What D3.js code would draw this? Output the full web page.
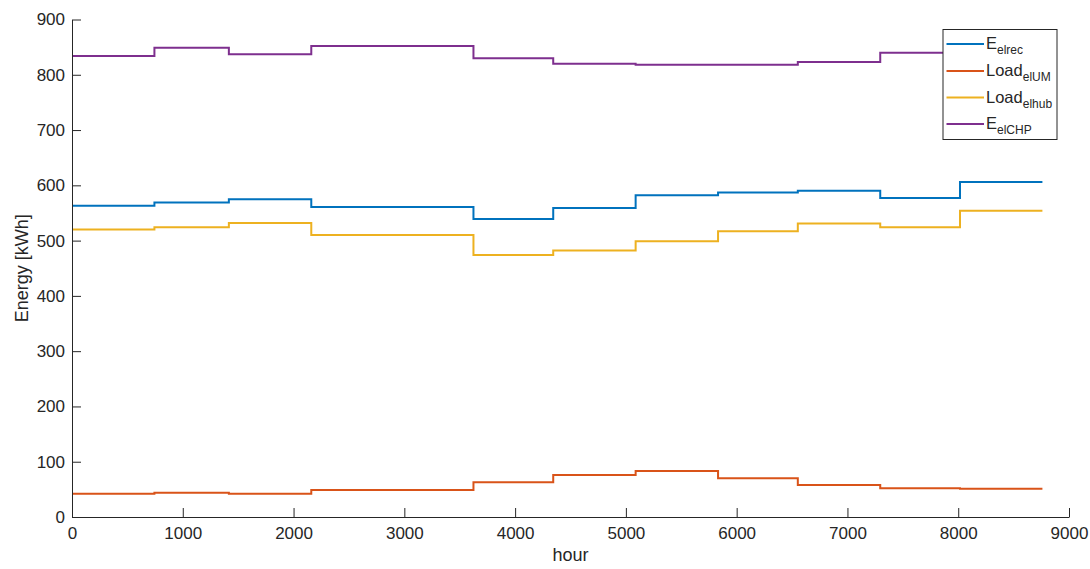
<!DOCTYPE html>
<html><head><meta charset="utf-8">
<script src="https://cdn.jsdelivr.net/npm/d3@7"></script>
<style>body{margin:0;background:#fff}svg{display:block}text{font-family:"Liberation Sans",Arial,sans-serif;fill:#262626}</style>
</head><body><svg id="c" width="1090" height="569"></svg>
<script>
// Month boundaries (hours) – step starts
const hours = [0, 744, 1416, 2160, 2880, 3624, 4344, 5088, 5832, 6552, 7296, 8016];
const endHour = 8760;
const Eelrec    = [563, 569, 575, 561, 561, 539, 559, 582, 587, 590, 577, 606];
const LoadelUM  = [42, 44, 42, 49, 49, 63, 76, 83, 70, 58, 52, 51];
const Loadelhub = [520, 524, 532, 510, 510, 474, 482, 499, 517, 531, 524, 554];
const EelCHP    = [834, 849, 837, 852, 852, 830, 820, 818, 818, 823, 840, 840];
const xTicks = [0,1000,2000,3000,4000,5000,6000,7000,8000,9000];
const yTicks = [0,100,200,300,400,500,600,700,800,900];
const seriesNames = [["E","elrec"],["Load","elUM"],["Load","elhub"],["E","elCHP"]];
const colors = ["#0072BD","#D95319","#EDB120","#7E2F8E"];
const seriesData = [Eelrec, LoadelUM, Loadelhub, EelCHP];

const svg = d3.select("#c");
const L = 72, R = 1069, T = 19.5, B = 517;
const x = d3.scaleLinear().domain([0,9000]).range([L,R]);
const y = d3.scaleLinear().domain([0,900]).range([B,T]);

const line = d3.line().x(d=>x(d[0])).y(d=>y(d[1])).curve(d3.curveStepAfter);
seriesData.forEach((vals,i)=>{
  const pts = hours.map((h,k)=>[h, vals[k]]);
  pts.push([endHour, vals[vals.length-1]]);
  svg.append("path").attr("d", line(pts)).attr("fill","none")
    .attr("stroke", colors[i]).attr("stroke-width", 2);
});

// axes
const xa = svg.append("g").attr("transform",`translate(0,${B})`)
  .call(d3.axisBottom(x).tickValues(xTicks).tickFormat(d3.format("d")).tickSize(-9).tickPadding(16).tickSizeOuter(0));
const ya = svg.append("g").attr("transform",`translate(${L},0)`)
  .call(d3.axisLeft(y).tickValues(yTicks).tickFormat(d3.format("d")).tickSize(-9).tickPadding(16).tickSizeOuter(0));
[xa,ya].forEach(g=>{
  g.select(".domain").attr("stroke","#262626").attr("stroke-width",1);
  g.selectAll(".tick line").attr("stroke","#262626");
  g.selectAll(".tick text").attr("font-size","17px").attr("fill","#262626")
   .style("font-family","'Liberation Sans',Arial,sans-serif");
});
ya.selectAll(".tick text").attr("x",-7);
xa.selectAll(".tick text").attr("y",10);

svg.append("text").attr("x",(L+R)/2).attr("y",561).attr("text-anchor","middle")
  .attr("font-size","18px").text("hour");
svg.append("text").attr("transform",`translate(28,${(T+B)/2}) rotate(-90)`)
  .attr("text-anchor","middle").attr("font-size","18px").text("Energy [kWh]");

// legend
const lg = svg.append("g");
lg.append("rect").attr("x",943).attr("y",29.5).attr("width",114).attr("height",110)
  .attr("fill","#fff").attr("stroke","#262626").attr("stroke-width",1);
const rowY = [44, 71, 97.5, 124];
seriesNames.forEach((n,i)=>{
  lg.append("line").attr("x1",946.5).attr("x2",984).attr("y1",rowY[i]).attr("y2",rowY[i])
    .attr("stroke",colors[i]).attr("stroke-width",2);
  const t = lg.append("text").attr("x",986).attr("y",rowY[i]+5).attr("font-size","16.5px");
  t.append("tspan").text(n[0]);
  t.append("tspan").attr("dy",5).attr("font-size","12px").text(n[1]);
});
</script></body></html>
